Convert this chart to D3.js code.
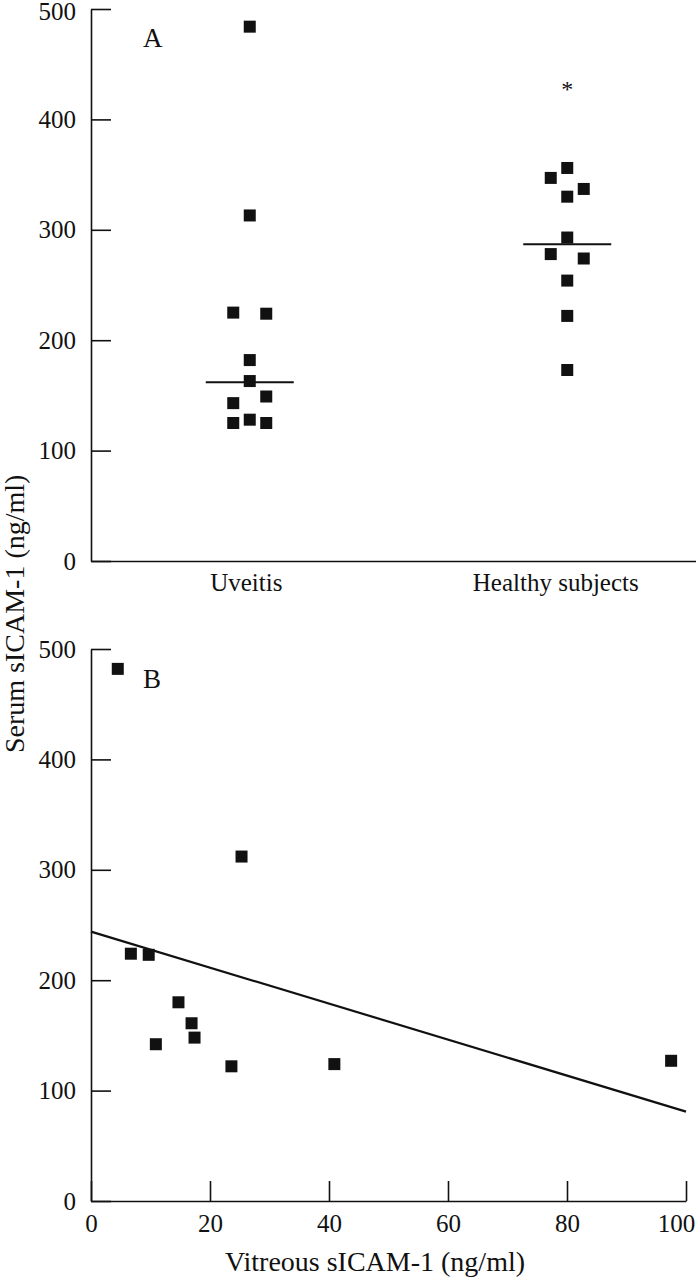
<!DOCTYPE html>
<html>
<head>
<meta charset="utf-8">
<script src="https://cdn.jsdelivr.net/npm/d3@7"></script>
<style>
  html, body { margin: 0; padding: 0; background: #fff; }
  svg { display: block; }
  text { font-family: "Liberation Serif", "Times New Roman", serif; fill: #111; }
</style>
</head>
<body>
<svg id="chart" width="696" height="1280"></svg>
<script>
// ---- Data ----
const categories = ["Uveitis", "Healthy subjects"];
const uveitisValues = [484, 313, 225, 224, 182, 163, 149, 143, 125, 128, 125];
const uveitisSlots  = [0, 0, -1, 1, 0, 0, 1, -1, -1, 0, 1];
const healthyValues = [356, 347, 337, 330, 293, 278, 274, 254, 222, 173];
const healthySlots  = [0, -1, 1, 0, 0, -1, 1, 0, 0, 0];
const medianValues  = [162, 287];
const annotationCats = ["Healthy subjects"];
const annotationValues = [431];
const annotationTexts = ["*"];

const yTicks = [0, 100, 200, 300, 400, 500];
const xTicks = [0, 20, 40, 60, 80, 100];
const vitreousValues = [4.5, 25.3, 6.7, 9.7, 14.7, 16.9, 17.4, 10.9, 23.6, 40.9, 97.5];
const serumValues    = [482, 312, 224, 223, 180, 161, 148, 142, 122, 124, 127];
const regressionX = [0, 100];
const regressionY = [244, 81];

// ---- Layout ----
const svg = d3.select("#chart");
const ink = "#111";
const fontSize = 25;
const sq = 12;

// Panel A scales
const xCat = d3.scalePoint().domain(categories).range([91, 726]).padding(0.5);
const jitter = d3.scaleLinear().domain([-1, 1]).range([-16.5, 16.5]);
const yA = d3.scaleLinear().domain([0, 500]).range([561, 9]);

// Panel B scales
const xB = d3.scaleLinear().domain([0, 100]).range([91, 686]);
const yB = d3.scaleLinear().domain([0, 500]).range([1201, 649]);

function styleAxis(g) {
  g.select(".domain").attr("stroke", ink).attr("stroke-width", 1.6);
  g.selectAll(".tick line").attr("stroke", ink).attr("stroke-width", 1.6);
  g.selectAll(".tick text").attr("font-size", fontSize)
    .attr("font-family", '"Liberation Serif", "Times New Roman", serif').attr("fill", ink);
}

// ---- Panel A ----
const gA = svg.append("g");
gA.append("g").attr("transform", "translate(91,0)")
  .call(d3.axisLeft(yA).tickValues(yTicks).tickSizeInner(-20).tickSizeOuter(0).tickPadding(15))
  .call(styleAxis)
  .selectAll(".tick text").attr("dy", (d) => d === 500 ? "0.4em" : "0.32em");

const xAxisA = gA.append("g").attr("transform", `translate(0,${yA(0)})`)
  .call(d3.axisBottom(xCat).tickSizeInner(0).tickSizeOuter(0).tickPadding(12))
  .call(styleAxis);
const labelShift = [-4, -12];
xAxisA.selectAll(".tick text").attr("dx", (d, i) => labelShift[i]);

const pointsA = [];
uveitisValues.forEach((v, i) => pointsA.push({ cat: categories[0], v, s: uveitisSlots[i] }));
healthyValues.forEach((v, i) => pointsA.push({ cat: categories[1], v, s: healthySlots[i] }));

gA.selectAll("rect.pt").data(pointsA).join("rect")
  .attr("class", "pt")
  .attr("x", d => xCat(d.cat) + jitter(d.s) - sq / 2)
  .attr("y", d => yA(d.v) - sq / 2)
  .attr("width", sq).attr("height", sq)
  .attr("fill", ink);

gA.selectAll("line.median").data(categories).join("line")
  .attr("class", "median")
  .attr("x1", d => xCat(d) - 44).attr("x2", d => xCat(d) + 44)
  .attr("y1", (d, i) => yA(medianValues[i])).attr("y2", (d, i) => yA(medianValues[i]))
  .attr("stroke", ink).attr("stroke-width", 2);

gA.selectAll("text.annot").data(annotationValues).join("text")
  .attr("class", "annot")
  .attr("x", (d, i) => xCat(annotationCats[i]))
  .attr("y", d => yA(d))
  .attr("dy", "0.5em")
  .attr("text-anchor", "middle")
  .attr("font-size", 24)
  .text((d, i) => annotationTexts[i]);

gA.append("text").attr("x", 143).attr("y", 47).attr("font-size", 27).text("A");

// ---- Panel B ----
const gB = svg.append("g");
gB.append("g").attr("transform", "translate(91,0)")
  .call(d3.axisLeft(yB).tickValues(yTicks).tickSizeInner(-20).tickSizeOuter(0).tickPadding(15))
  .call(styleAxis);
const xAxisB = gB.append("g").attr("transform", `translate(0,${yB(0)})`)
  .call(d3.axisBottom(xB).tickValues(xTicks).tickSizeInner(-20).tickSizeOuter(0).tickPadding(13))
  .call(styleAxis);
// last tick label sits a little left of its tick, as in the reference
xAxisB.selectAll(".tick text").attr("dx", d => d === 100 ? "-0.4em" : 0);

gB.append("path")
  .datum(regressionX.map((x, i) => [x, regressionY[i]]))
  .attr("d", d3.line().x(d => xB(d[0])).y(d => yB(d[1])))
  .attr("fill", "none").attr("stroke", ink).attr("stroke-width", 2.2);

gB.selectAll("rect.ptb").data(vitreousValues.map((x, i) => ({ x, y: serumValues[i] }))).join("rect")
  .attr("class", "ptb")
  .attr("x", d => xB(d.x) - sq / 2)
  .attr("y", d => yB(d.y) - sq / 2)
  .attr("width", sq).attr("height", sq)
  .attr("fill", ink);

gB.append("text").attr("x", 143).attr("y", 688).attr("font-size", 27).text("B");

// ---- Axis titles ----
svg.append("text")
  .attr("x", 375).attr("y", 1271)
  .attr("text-anchor", "middle")
  .attr("font-size", 28)
  .text("Vitreous sICAM-1 (ng/ml)");

svg.append("text")
  .attr("transform", "translate(24,753) rotate(-90)")
  .attr("text-anchor", "start")
  .attr("font-size", 28)
  .text("Serum sICAM-1 (ng/ml)");
</script>
</body>
</html>
